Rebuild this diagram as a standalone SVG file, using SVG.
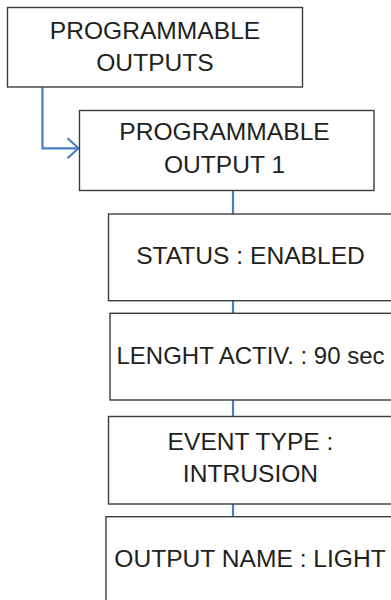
<svg xmlns="http://www.w3.org/2000/svg" width="391" height="600" viewBox="0 0 391 600">
<style>
.box{fill:#ffffff;stroke:#3c3c3c;stroke-width:1.4}
.t{font-family:"Liberation Sans",Arial,sans-serif;font-size:24.6px;fill:#231f20;text-anchor:middle}
.c{fill:none;stroke:#4a7ec4;stroke-width:2.2}
</style>
<rect width="391" height="600" fill="#ffffff"/>
<g id="connectors">
<path class="c" d="M42.5,87 V148.3 H78"/>
<path class="c" d="M67.5,138.3 L78.5,148.3 L67.5,158.3"/>
<path class="c" d="M233,190.5 V214"/>
<path class="c" d="M233,300.7 V313.3"/>
<path class="c" d="M233,400 V416.5"/>
<path class="c" d="M233,504 V516.7"/>
</g>
<g id="n1">
<rect class="box" x="7.5" y="7.5" width="295" height="79.5"/>
<text class="t" x="155" y="39">PROGRAMMABLE</text>
<text class="t" x="155" y="71">OUTPUTS</text>
</g>
<g id="n2">
<rect class="box" x="79.5" y="110.5" width="294.5" height="80"/>
<text class="t" x="224.5" y="140">PROGRAMMABLE</text>
<text class="t" x="224.5" y="172.5">OUTPUT 1</text>
</g>
<g id="n3">
<rect class="box" x="108.5" y="214" width="295" height="86.7"/>
<text class="t" x="250.5" y="263.5">STATUS : ENABLED</text>
</g>
<g id="n4">
<rect class="box" x="110" y="313.3" width="295" height="86.7"/>
<text class="t" x="250.5" y="364" style="font-size:24px">LENGHT ACTIV. : 90 sec</text>
</g>
<g id="n5">
<rect class="box" x="108.5" y="416.5" width="295" height="87.5"/>
<text class="t" x="250.5" y="450">EVENT TYPE :</text>
<text class="t" x="250.5" y="481.7">INTRUSION</text>
</g>
<g id="n6">
<rect class="box" x="106" y="516.7" width="295" height="100"/>
<text class="t" x="250" y="566.7">OUTPUT NAME : LIGHT</text>
</g>
</svg>
